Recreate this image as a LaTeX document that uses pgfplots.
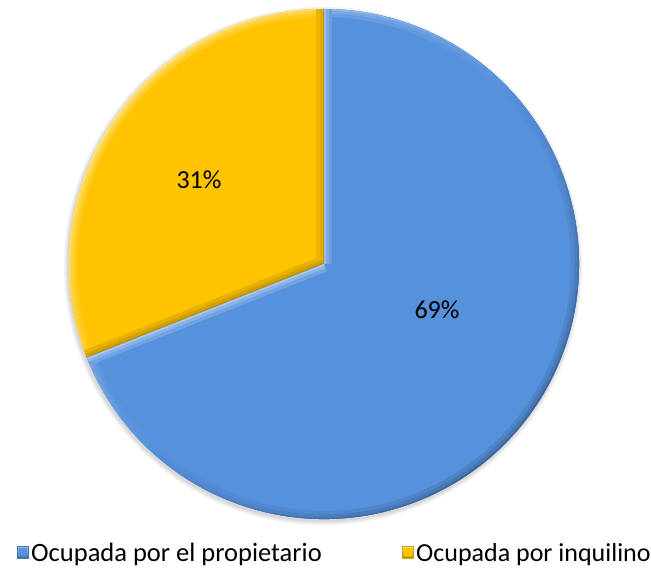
\documentclass[border=0pt]{standalone}
\usepackage{pgfplots}
\pgfplotsset{compat=1.18}
\usepackage{pgfplotstable}
\usepackage{fontspec}
\setmainfont{Carlito}
\definecolor{pieblue}{RGB}{86,145,220}
\definecolor{pieyellow}{RGB}{255,195,0}

\pgfplotstableread{
share value
owner 69
tenant 31
}\piedata

\newcommand\bevelstroke[3]{%
  \pgfmathsetmacro\bvt{#2}%
  \ifdim\bvt pt<0pt \def\mixc{black}\else\def\mixc{white}\fi
  \foreach \w/\f in {16/0.3,9/0.6,3/1} {%
    \pgfmathtruncatemacro\p{\bvt>=0 ? 100-55*\bvt*\f : 100+30*\bvt*\f}%
    \draw[line width=\w pt, color=#1!\p!\mixc] #3;
  }}

\newcommand\bevel[3]{%
  \begin{scope}[x=1pt,y=1pt]
  \clip (324,304) -- ++(#2:255) arc[start angle=#2,end angle=#3,radius=255] -- cycle;
  \pgfmathtruncatemacro{\nseg}{ceil((#3-#2)/3)}%
  \pgfmathsetmacro{\stp}{(#3-#2)/\nseg}%
  \foreach \i in {1,...,\nseg} {%
    \pgfmathsetmacro{\sa}{#2+(\i-1)*\stp}%
    \pgfmathsetmacro{\sb}{\sa+\stp}%
    \pgfmathsetmacro{\kk}{cos(\sa+0.5*\stp-135)}%
    \bevelstroke{#1}{\kk}{(324,304) ++(\sa:255) arc[start angle=\sa,end angle=\sb,radius=255]}
  }
  \pgfmathsetmacro{\kk}{cos(#2-90-135)}%
  \bevelstroke{#1}{\kk}{(324,304) -- ++(#2:262)}
  \pgfmathsetmacro{\kk}{cos(#3+90-135)}%
  \bevelstroke{#1}{\kk}{(324,304) -- ++(#3:262)}
  \end{scope}}

\begin{document}
\pgfplotstablegetelem{0}{value}\of\piedata\edef\vOwner{\pgfplotsretval}%
\pgfplotstablegetelem{1}{value}\of\piedata\edef\vTenant{\pgfplotsretval}%
\pgfmathsetmacro{\aStart}{90}%
\pgfmathsetmacro{\aMid}{90+3.6*\vTenant}%
\pgfmathsetmacro{\bStart}{\aMid-360}%
\pgfmathsetmacro{\bEnd}{\bStart+3.6*\vOwner}%
\begin{tikzpicture}
\begin{axis}[width=651pt,height=568pt,scale only axis,
  xmin=0,xmax=651,ymin=0,ymax=568,hide axis,clip=false]
  \path (axis cs:0,0) rectangle (axis cs:651,568);
  % soft shadow
  \fill[black,opacity=0.05] (axis cs:323,302) circle[radius=259];
  \fill[black,opacity=0.05] (axis cs:323,302) circle[radius=257.5];
  \fill[black,opacity=0.06] (axis cs:323,302) circle[radius=256];
  % wedges
  \fill[pieyellow] (axis cs:324,304) -- ++(\aStart:255) arc[start angle=\aStart,end angle=\aMid,radius=255] -- cycle;
  \fill[pieblue] (axis cs:324,304) -- ++(\bStart:255) arc[start angle=\bStart,end angle=\bEnd,radius=255] -- cycle;
\end{axis}
\bevel{pieyellow}{\aStart}{\aMid}
\bevel{pieblue}{\bStart}{\bEnd}
\begin{axis}[width=651pt,height=568pt,scale only axis,
  xmin=0,xmax=651,ymin=0,ymax=568,hide axis,clip=false]
  \node[font=\fontsize{26}{30}\selectfont, inner sep=0pt] at (axis cs:199,388) {\vTenant\%};
  \node[font=\fontsize{26}{30}\selectfont, inner sep=0pt] at (axis cs:437,258) {\vOwner\%};
  % legend
  \shade[top color=pieblue!55!white, bottom color=pieblue!75!black, draw=pieblue!80!black, line width=0.4pt] (axis cs:17,10) rectangle (axis cs:28.5,21.5);
  \fill[pieblue] (axis cs:19,12) rectangle (axis cs:26.5,19.5);
  \node[font=\fontsize{26.5}{30}\selectfont, inner sep=0pt, anchor=base west] at (axis cs:31,6) {Ocupada por el propietario};
  \shade[top color=pieyellow!45!white, bottom color=pieyellow!75!black, draw=pieyellow!80!black, line width=0.4pt] (axis cs:402,10) rectangle (axis cs:413.5,21.5);
  \fill[pieyellow] (axis cs:404,12) rectangle (axis cs:411.5,19.5);
  \node[font=\fontsize{26}{30}\selectfont, inner sep=0pt, anchor=base west] at (axis cs:416,6) {Ocupada por inquilinos};
\end{axis}
\pgfresetboundingbox
\path (0pt,0pt) rectangle (651pt,568pt);
\end{tikzpicture}
\end{document}
